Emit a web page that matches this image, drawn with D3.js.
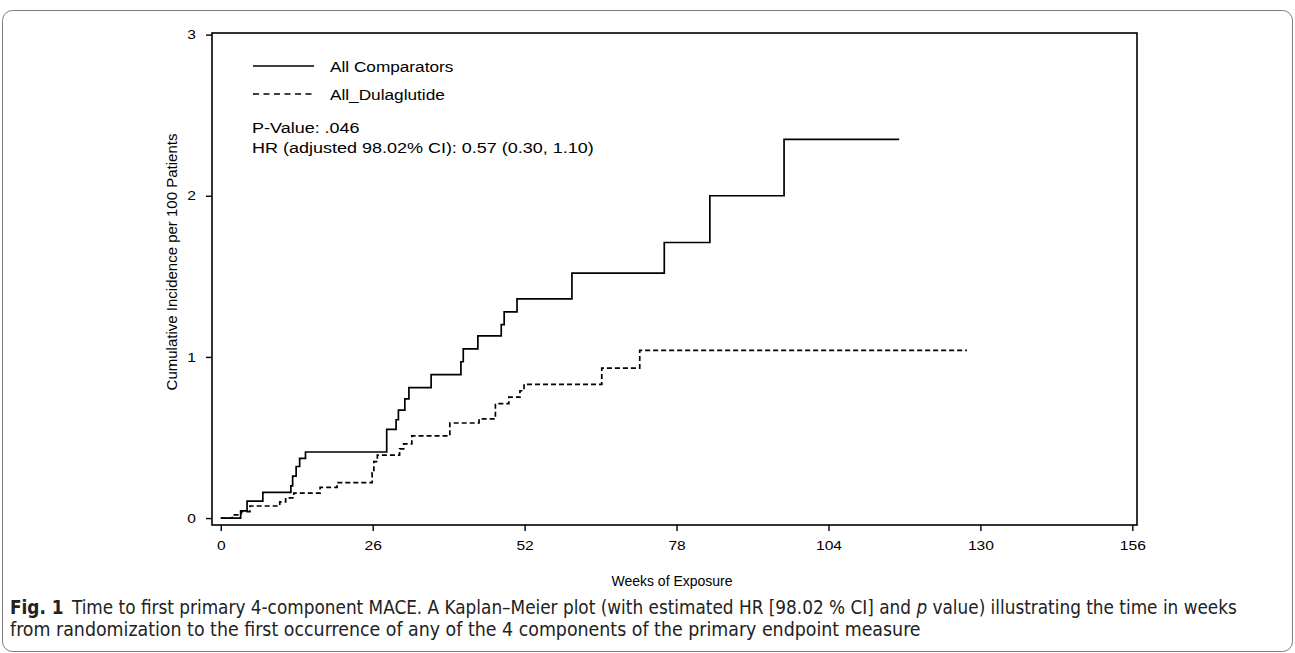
<!DOCTYPE html>
<html lang="en">
	<head>
		<meta charset="UTF-8" />
		<title>MACE Kaplan-Meier</title>
		<script src="https://cdn.jsdelivr.net/npm/d3@7/dist/d3.min.js"></script>
		<style>
			html, body {
				margin: 0;
				padding: 0;
				background: #fff;
			}
			svg text {
				font-family: Arial, "Liberation Sans", sans-serif;
				fill: #000;
			}
			.caption text {
				font-family: "Liberation Sans Narrow", "DejaVu Sans Condensed", "Roboto", sans-serif;
				fill: #222;
			}
		</style>
	</head>
	<body>
		<svg id="svg"></svg>
	</body>

	<script>
		const width = 1295;
		const height = 653;

		// cumulative incidence steps: [week, incidence per 100 patients]
		const comparators = [
			[0, 0], [3.4, 0.045], [4.5, 0.105], [7.2, 0.16], [12.0, 0.2], [12.3, 0.26],
			[12.9, 0.32], [13.5, 0.37], [14.5, 0.41], [28.4, 0.55], [30.0, 0.61],
			[30.4, 0.67], [31.5, 0.74], [32.2, 0.81], [36.0, 0.89], [41.1, 0.97],
			[41.5, 1.05], [44.0, 1.13], [48.0, 1.2], [48.5, 1.28], [50.7, 1.36],
			[60.1, 1.52], [75.9, 1.71], [83.7, 2.0], [96.4, 2.35], [116.1, 2.35]
		];
		const dulaglutide = [
			[0, 0], [2.0, 0.02], [3.5, 0.04], [5.0, 0.075], [10.1, 0.1], [11.1, 0.125],
			[12.5, 0.155], [17.0, 0.19], [19.9, 0.22], [25.9, 0.28], [26.2, 0.35],
			[26.8, 0.39], [30.6, 0.43], [31.3, 0.46], [32.7, 0.51], [39.2, 0.59],
			[44.2, 0.615], [47.0, 0.71], [49.3, 0.75], [51.2, 0.79], [51.9, 0.83],
			[65.2, 0.93], [71.7, 1.04], [127.7, 1.04]
		];

		const xMajor = [0, 26, 52, 78, 104, 130, 156];
		const xMinor = [13, 39, 65, 91, 117, 143];
		const yMajor = [0, 1, 2, 3];
		const yMinor = [0.5, 1.5, 2.5];

		const series = [
			{ name: "All Comparators", data: comparators, dash: null },
			{ name: "All_Dulaglutide", data: dulaglutide, dash: "5,3" }
		];
		const stats = ["P-Value: .046", "HR (adjusted 98.02% CI): 0.57 (0.30, 1.10)"];

		const svg = d3.select("#svg").attr("width", width).attr("height", height);

		// the SAS glyphs are wider than Arial, stretch them a bit
		function stretch(sel, k) {
			sel.each(function () {
				const w = this.getComputedTextLength();
				d3.select(this).attr("textLength", w * k).attr("lengthAdjust", "spacingAndGlyphs");
			});
		}

		// figure frame
		svg.append("rect")
			.attr("x", 2.5).attr("y", 10.5)
			.attr("width", width - 5).attr("height", height - 12)
			.attr("rx", 10)
			.attr("fill", "none")
			.attr("stroke", "#7a7a7a");

		const pLeft = 212, pRight = 1137, pTop = 33, pBottom = 525;
		const x = d3.scaleLinear().domain([-1.5, 156.8]).range([pLeft, pRight]);
		const y = d3.scaleLinear().domain([-0.043, 3.01]).range([pBottom, pTop]);

		// axes
		const gx = svg.append("g").attr("transform", `translate(0,${pBottom})`);
		gx.call(d3.axisBottom(x).tickValues(xMinor).tickFormat("").tickSize(4).tickSizeOuter(0));
		gx.call(d3.axisBottom(x).tickValues(xMajor).tickFormat(d3.format("d")).tickSize(6).tickSizeOuter(0).tickPadding(10));
		const gy = svg.append("g").attr("transform", `translate(${pLeft},0)`);
		gy.call(d3.axisLeft(y).tickValues(yMinor).tickFormat("").tickSize(4).tickSizeOuter(0));
		gy.call(d3.axisLeft(y).tickValues(yMajor).tickFormat(d3.format("d")).tickSize(6).tickSizeOuter(0).tickPadding(10));
		svg.selectAll(".domain").remove();
		svg.selectAll(".tick line").attr("stroke", "#000").attr("stroke-width", 1.4);
		svg.selectAll(".tick text").style("font-size", "13px");
		stretch(svg.selectAll(".tick text"), 1.2);

		svg.append("rect")
			.attr("x", pLeft).attr("y", pTop)
			.attr("width", pRight - pLeft).attr("height", pBottom - pTop)
			.attr("fill", "none")
			.attr("stroke", "#000")
			.attr("stroke-width", 1.6);

		svg.append("text")
			.attr("transform", `translate(177,262) rotate(-90)`)
			.attr("text-anchor", "middle")
			.style("font-size", "15px")
			.text("Cumulative Incidence per 100 Patients");

		svg.append("text")
			.attr("x", 672).attr("y", 586)
			.attr("text-anchor", "middle")
			.style("font-size", "14px")
			.text("Weeks of Exposure");

		// KM step curves
		const line = d3.line()
			.x((d) => x(d[0]))
			.y((d) => y(d[1]))
			.curve(d3.curveStepAfter);

		svg.selectAll(".km")
			.data(series)
			.join("path")
			.attr("class", "km")
			.attr("d", (d) => line(d.data))
			.attr("fill", "none")
			.attr("stroke", "#000")
			.attr("stroke-width", 1.7)
			.attr("stroke-dasharray", (d) => d.dash);

		// legend
		const lg = svg.selectAll(".legend")
			.data(series)
			.join("g")
			.attr("class", "legend")
			.attr("transform", (d, i) => `translate(253,${66 + i * 28})`);
		lg.append("line")
			.attr("x1", 0).attr("x2", 61)
			.attr("stroke", "#000")
			.attr("stroke-width", 1.6)
			.attr("stroke-dasharray", (d) => (d.dash ? "6,4.5" : null));
		lg.append("text")
			.attr("x", 77).attr("y", 6)
			.style("font-size", "15.5px")
			.text((d) => d.name);

		svg.selectAll(".stat")
			.data(stats)
			.join("text")
			.attr("class", "stat")
			.attr("x", 252)
			.attr("y", (d, i) => 133 + i * 20)
			.style("font-size", "15.5px")
			.text((d) => d);

		stretch(svg.selectAll(".legend text"), 1.11);
		stretch(svg.selectAll(".stat"), 1.16);

		// caption
		const cap = svg.append("g").attr("class", "caption");
		const l1 = cap.append("text").attr("x", 10).attr("y", 614).style("font-size", "15.5px");
		l1.append("tspan").style("font-weight", "bold").text("Fig. 1");
		l1.append("tspan").text("\u2002Time to first primary 4-component MACE. A Kaplan\u2013Meier plot (with estimated HR [98.02 % CI] and ");
		l1.append("tspan").style("font-style", "italic").text("p");
		l1.append("tspan").text(" value) illustrating the time in weeks");
		const l2 = cap.append("text").attr("x", 10).attr("y", 636).style("font-size", "15.5px")
			.text("from randomization to the first occurrence of any of the 4 components of the primary endpoint measure");

		// squeeze caption lines to the widths seen in the figure
		[[l1, 1228], [l2, 911]].forEach(([t, w]) => {
			const cur = t.node().getComputedTextLength();
			if (cur > 0) t.style("font-size", (15.5 * w / cur).toFixed(2) + "px");
		});
	</script>
</html>
